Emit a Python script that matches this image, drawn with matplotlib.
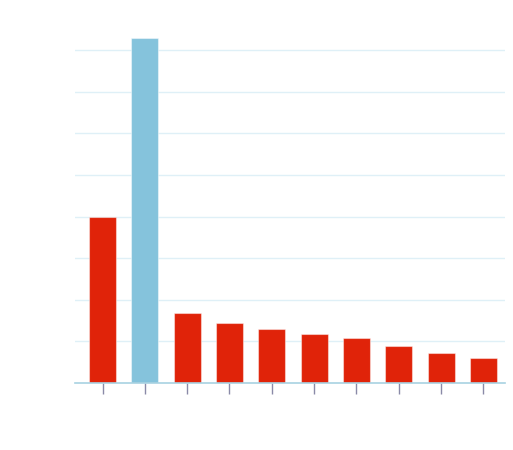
import matplotlib
matplotlib.use("Agg")
import matplotlib.pyplot as plt

# values (grid step = 1 unit)
categories = list(range(10))
values = [4.0, 8.29, 1.68, 1.44, 1.31, 1.18, 1.08, 0.88, 0.72, 0.59]
highlight = 1

red = "#e02309"
blue = "#85c3dc"
colors = [blue if i == highlight else red for i in categories]

fig = plt.figure(figsize=(5.13, 4.5), dpi=100)
ax = fig.add_axes([75 / 513, 67 / 450, 430 / 513, 363 / 450])

bars = ax.bar(categories, values, width=0.64, color=colors,
              edgecolor=(1, 1, 1, 0.45), linewidth=0.8, zorder=3)

ax.set_xlim(-0.65, 9.51)
ax.set_ylim(0, 363 / 41.6)
ax.set_yticks(range(1, 9))
ax.yaxis.grid(True, color="#dff0f7", linewidth=1, zorder=0)
ax.tick_params(axis="y", length=0, labelleft=False)

ax.set_xticks(categories)
ax.tick_params(axis="x", direction="out", length=8, width=1,
               color="#8a8aa8", labelbottom=False)

for s in ["top", "right", "left"]:
    ax.spines[s].set_visible(False)
ax.spines["bottom"].set_color("#a8d2e2")
ax.spines["bottom"].set_linewidth(1.2)
ax.spines["bottom"].set_zorder(4)

fig.savefig("out.png", dpi=100)
